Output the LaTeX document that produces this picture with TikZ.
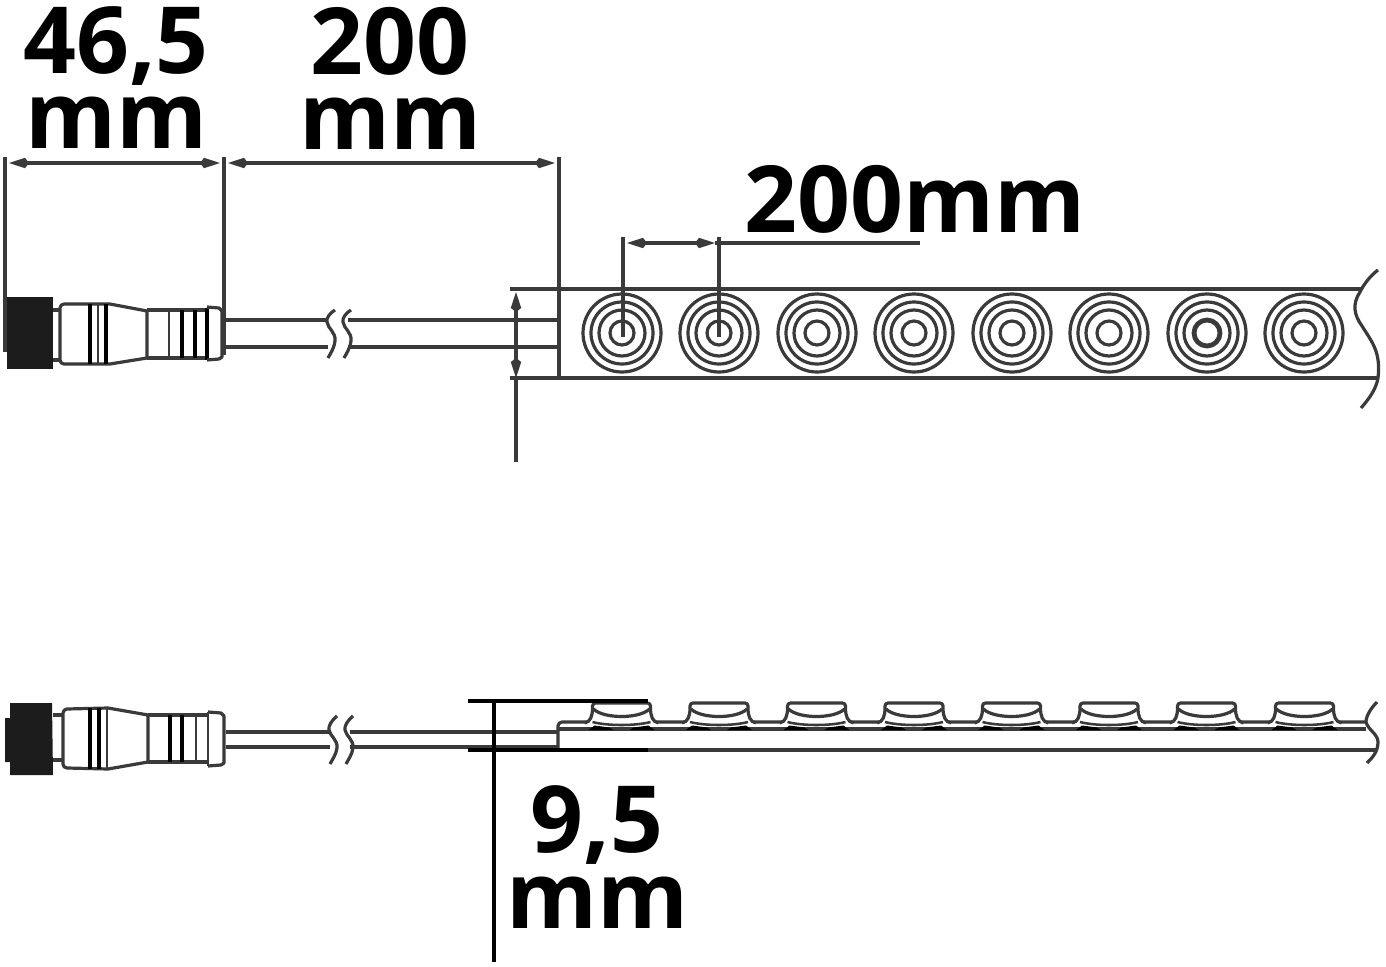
\documentclass[tikz,border=0pt]{standalone}
\usepackage{fontspec}
\setmainfont{Open Sans}
\usetikzlibrary{arrows.meta}
\definecolor{ink}{HTML}{3A3A3A}
\definecolor{tar}{HTML}{1C1C1C}
\tikzset{
  ln/.style={draw=ink,line width=2.4pt},
  thin ln/.style={draw=ink,line width=1.9pt},
  thick ln/.style={draw=black,line width=3.4pt},
  dimline/.style={draw=ink,line width=2.3pt},
  refline/.style={draw=black,line width=2.3pt},
  both tips/.style={{Kite[length=15pt,width=7.8pt,inset=3pt]}-{Kite[length=15pt,width=7.8pt,inset=3pt]}},
  dimtext/.style={font=\fontsize{69.5}{56.3}\bfseries\selectfont,align=center,text=black,inner sep=0pt},
  ring/.style={draw=ink,line width=2.4pt,fill=none}
}
\begin{document}
\begin{tikzpicture}[x=0.75pt,y=-0.75pt,line cap=butt,line join=round]
\useasboundingbox (0,0) rectangle (1386,967);
\fill[white] (0,0) rectangle (1386,967);

% ---------- dimension texts
\node[dimtext] (t465) at (116,78) {46,5\\mm};
\node[dimtext] (t200a) at (390,78) {200\\mm};
\node[dimtext,anchor=base] (t200b) at (915,232) {200mm};
\node[dimtext] (t95) at (597,857) {9,5\\mm};

% ---------- top connector
\fill[tar] (7,297) rectangle (53,369);
\draw[ln] (53,310) -- (60,310) (53,360) -- (60,360);
\draw[ln,fill=white] (110,304) -- (64,304) to[out=180,in=90] (60,308) -- (60,360) to[out=-90,in=180] (64,364) -- (110,364) -- (147,358) -- (147,311) -- cycle;
\draw[thick ln] (90,304) -- (90,364);
\draw[thin ln] (98,304) -- (98,364);
\draw[thick ln] (106,304) -- (106,364);
\draw[ln] (147,310) -- (207,310) (147,358) -- (207,358);
\draw[thin ln] (169,310) -- (169,358);
\draw[thick ln] (182,310) -- (182,358);
\draw[thick ln] (195,310) -- (195,358);
\draw[thick ln] (207,308) -- (207,360);
\draw[ln] (207,307) -- (219,308) -- (222,311) -- (222,357) -- (219,359) -- (207,360);

% cable top
\draw[ln] (224,320) -- (328,320) (224,347) -- (328,347);
\draw[ln] (348,320) -- (558,320) (348,347) -- (558,347);
\foreach \d in {0,16}{
  \draw[ln] (335+\d,310) .. controls (330+\d,313) and (326+\d,318) .. (327+\d,322) .. controls (328+\d,329) and (336+\d,332) .. (335+\d,341) .. controls (334+\d,349) and (330+\d,354) .. (328+\d,358);
}

% dimension lines, top
\coordinate (d1) at (5,157);  \coordinate (d1b) at (5,352);
\coordinate (d2) at (224,157);\coordinate (d2b) at (224,355);
\coordinate (d3) at (559,157);\coordinate (d3b) at (559,378);
\draw[dimline] (d1) -- (d1b);
\draw[dimline] (d2) -- (d2b);
\draw[dimline] (d3) -- (d3b);
\coordinate (a1) at (9,163);  \coordinate (a2) at (220,163);
\coordinate (a3) at (228,163);\coordinate (a4) at (555,163);
\draw[dimline,both tips] (a1) -- (a2);
\draw[dimline,both tips] (a3) -- (a4);

% strip, top view
\coordinate (sl) at (510,289);\coordinate (sr) at (1362,289);
\coordinate (bl) at (510,378);\coordinate (br) at (1378,378);
\draw[ln] (sl) -- (sr);
\draw[ln] (bl) -- (br);
\draw[ln] (1378,270) .. controls (1370,276) and (1364,284) .. (1360,292) .. controls (1352,304) and (1354,315) .. (1362,326) .. controls (1372,342) and (1381,352) .. (1378,378) .. controls (1376,390) and (1368,400) .. (1361,408);

% LEDs
\foreach \c in {622,719,817,914,1012,1109,1304}{
  \foreach \r in {39,31,23,12}{ \draw[ring] (\c,333) circle[radius=\r]; }
}
\foreach \r in {39,31,23}{ \draw[ring] (1207,333) circle[radius=\r]; }
\draw[ring,line width=3.6pt] (1207,333) circle[radius=13];

% 200 mm pitch dimension
\coordinate (p1) at (623,237);\coordinate (p1b) at (623,337);
\coordinate (p2) at (719,237);\coordinate (p2b) at (719,337);
\draw[dimline] (p1) -- (p1b);
\draw[dimline] (p2) -- (p2b);
\coordinate (q1) at (627,243);\coordinate (q2) at (715,243);\coordinate (q3) at (920,243);
\draw[dimline,both tips] (q1) -- (q2);
\draw[dimline] (q2) -- (q3);

% strip height dimension
\coordinate (h0) at (516,292);\coordinate (h1) at (516,378);\coordinate (h2) at (516,462);
\draw[dimline,both tips] (h0) -- (h1);
\draw[dimline] (h1) -- (h2);

% ---------- lower connector
\fill[tar] (10,703) -- (52,703) -- (53,775) -- (10,775) -- (10,762) -- (5,762) -- (5,718) -- (10,718) -- cycle;
\draw[ln] (53,715) -- (63,715) (53,760) -- (63,760);
\draw[ln,fill=white] (108,708) -- (67,709) to[out=180,in=90] (63,713) -- (63,764) to[out=-90,in=180] (67,768) -- (108,769) -- (148,762) -- (148,715) -- cycle;
\draw[thick ln] (90,708) -- (90,769);
\draw[thick ln] (99,708) -- (99,769);
\draw[thin ln] (107,708) -- (107,769);
\draw[ln] (148,715) -- (208,715) (148,762) -- (208,762);
\draw[thick ln] (170,715) -- (170,762);
\draw[thick ln] (182,715) -- (182,762);
\draw[thin ln] (196,715) -- (196,762);
\draw[thin ln] (208,712) -- (208,766);
\draw[ln] (208,712) -- (221,713) -- (224,716) -- (224,763) -- (221,765) -- (208,766);

% cable lower
\draw[ln] (226,732) -- (330,732) (226,747) -- (330,747);
\draw[ln] (350,732) -- (558,732) (350,747) -- (558,747);
\foreach \d in {0,16}{
  \draw[ln] (337+\d,716) .. controls (332+\d,720) and (328+\d,726) .. (329+\d,730) .. controls (330+\d,736) and (338+\d,740) .. (337+\d,748) .. controls (336+\d,755) and (332+\d,760) .. (330+\d,764);
}

% strip side view
\draw[ln] (558,750) -- (558,726) to[out=90,in=180] (562,722) -- (1366,722);
\draw[ln] (558,729) -- (1366,729);
\draw[ln] (648,750) -- (1376,750);
\draw[ln] (1377,702) .. controls (1371,708) and (1366,716) .. (1366,722) .. controls (1368,730) and (1378,734) .. (1378,742) .. controls (1378,752) and (1372,758) .. (1367,763);

% LED side view
\foreach \c in {621.5,719,816.5,914,1011.5,1109,1206.5,1304.5}{
  \fill[white] (\c-35,720.5) rectangle (\c+35,727);
  \draw[ln,fill=white] (\c-37,723) .. controls (\c-31,722) and (\c-29,716) .. (\c-29,708) -- (\c-29,706) to[out=90,in=180] (\c-26,703) -- (\c+26,703) to[out=0,in=90] (\c+29,706) -- (\c+29,708) .. controls (\c+29,716) and (\c+31,722) .. (\c+37,723);
  \draw[ln] (\c-28,709) .. controls (\c-18,719) and (\c+18,719) .. (\c+28,709);
  \draw[thin ln] (\c-29,722) .. controls (\c-14,726) and (\c+14,726) .. (\c+29,722);
  \fill[black] (\c-33,730) -- (\c-27,725.5) -- (\c-12,727.5) -- (\c-8,730) -- cycle;
  \fill[black] (\c+33,730) -- (\c+27,725.5) -- (\c+12,727.5) -- (\c+8,730) -- cycle;
}

% thickness dimension
\coordinate (r1) at (468,701);\coordinate (r2) at (648,701);
\coordinate (r3) at (468,750);\coordinate (r4) at (648,750);
\coordinate (r5) at (494,701);\coordinate (r6) at (494,962);
\draw[refline] (r1) -- (r2);
\draw[refline] (r3) -- (r4);
\draw[refline] (r5) -- (r6);
\end{tikzpicture}
\end{document}
